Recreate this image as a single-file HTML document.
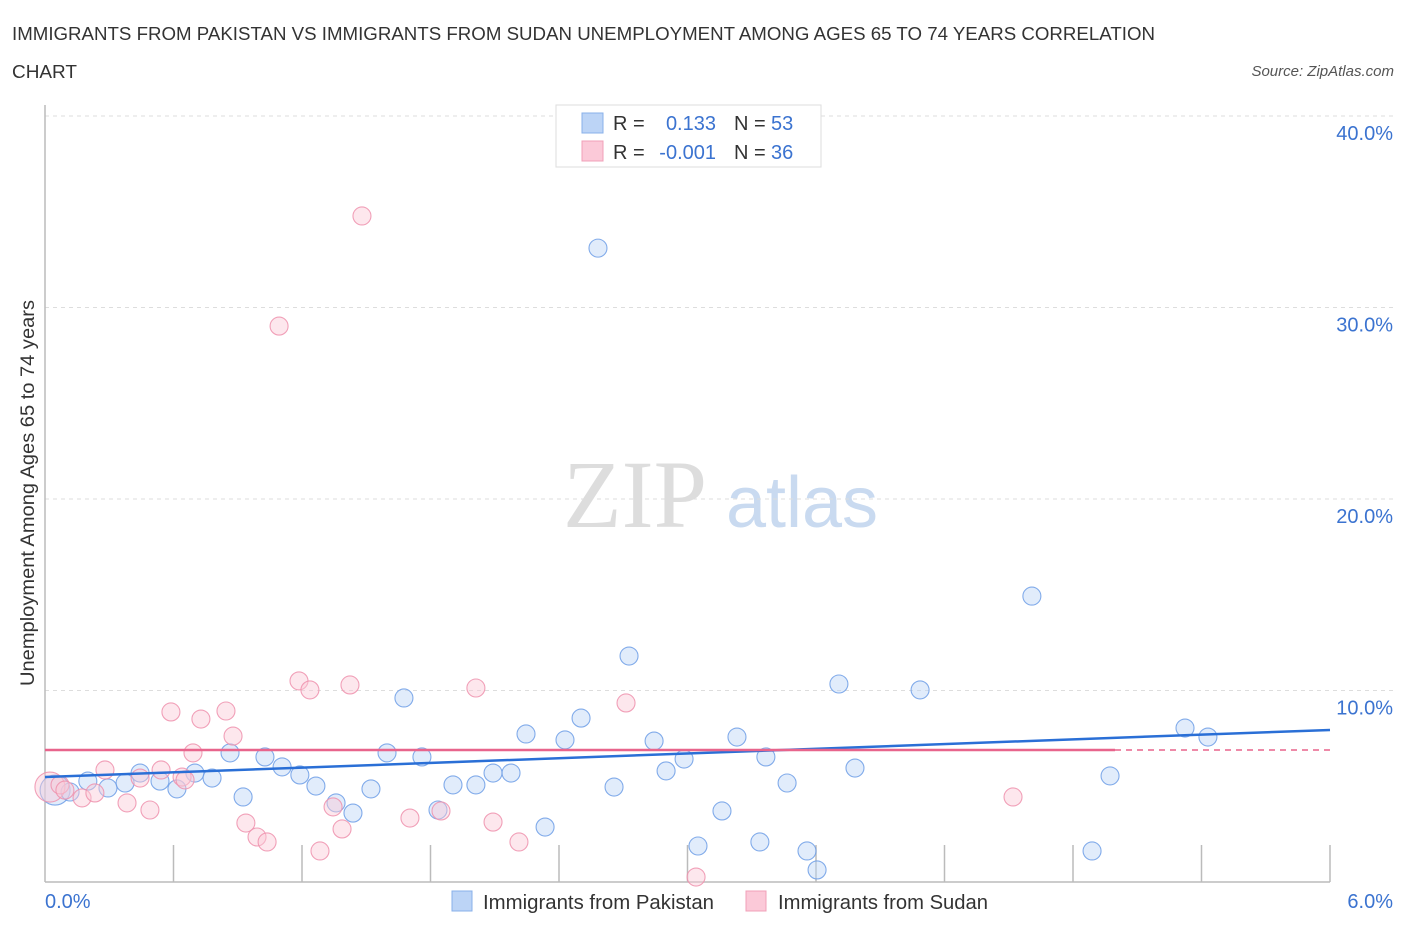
<!DOCTYPE html>
<html><head><meta charset="utf-8"><style>
body{margin:0;background:#fff;font-family:"Liberation Sans",sans-serif;}
svg text{font-family:"Liberation Sans",sans-serif;}
</style></head><body>
<svg id="chart" width="1406" height="930" xmlns="http://www.w3.org/2000/svg">
<text x="12" y="40" font-size="18" fill="#333" textLength="1143" lengthAdjust="spacingAndGlyphs">IMMIGRANTS FROM PAKISTAN VS IMMIGRANTS FROM SUDAN UNEMPLOYMENT AMONG AGES 65 TO 74 YEARS CORRELATION</text>
<text x="12" y="78" font-size="18" fill="#333" textLength="65" lengthAdjust="spacingAndGlyphs">CHART</text>
<text x="1394" y="76" font-size="15" font-style="italic" fill="#555" text-anchor="end">Source: ZipAtlas.com</text>
<g>
<text x="635" y="527" font-size="96" fill="#ddd" text-anchor="middle" style="font-family:'Liberation Serif',serif">ZIP</text>
<text x="802" y="527" font-size="72" fill="#c9daf0" text-anchor="middle">atlas</text>
</g>
<g id="grid"></g>
<g id="axes"></g>
<g id="pts"></g>
<g id="trend"></g>
<g>
<rect x="556" y="105" width="265" height="62" fill="#fff" stroke="#ddd"/>
<rect x="582" y="113" width="21" height="20" fill="#bcd4f6" stroke="#88b0ea"/>
<rect x="582" y="141" width="21" height="20" fill="#fbc9d8" stroke="#f0a0b8"/>
<text x="613" y="130" font-size="20" fill="#333">R = </text>
<text x="716" y="130" font-size="20" fill="#3b73d0" text-anchor="end">0.133</text>
<text x="734" y="130" font-size="20" fill="#333">N = </text>
<text x="771" y="130" font-size="20" fill="#3b73d0">53</text>
<text x="613" y="159" font-size="20" fill="#333">R = </text>
<text x="716" y="159" font-size="20" fill="#3b73d0" text-anchor="end">-0.001</text>
<text x="734" y="159" font-size="20" fill="#333">N = </text>
<text x="771" y="159" font-size="20" fill="#3b73d0">36</text>
</g>
<g>
<rect x="452" y="891" width="20" height="20" fill="#bcd4f6" stroke="#88b0ea"/>
<text x="483" y="909" font-size="20" fill="#333" textLength="231" lengthAdjust="spacingAndGlyphs">Immigrants from Pakistan</text>
<rect x="746" y="891" width="20" height="20" fill="#fbc9d8" stroke="#f0a0b8"/>
<text x="778" y="909" font-size="20" fill="#333" textLength="210" lengthAdjust="spacingAndGlyphs">Immigrants from Sudan</text>
</g>
<text x="0" y="0" font-size="19" fill="#333" text-anchor="middle" textLength="386" lengthAdjust="spacingAndGlyphs" transform="translate(34,493) rotate(-90)">Unemployment Among Ages 65 to 74 years</text>
</svg>
<script>
const pakX=[0.047,0.117,0.20,0.294,0.374,0.444,0.537,0.616,0.70,0.78,0.864,0.925,1.027,1.107,1.19,1.265,1.359,1.438,1.522,1.597,1.676,1.76,1.835,1.905,2.012,2.092,2.176,2.246,2.335,2.428,2.503,2.582,2.657,2.727,2.844,2.90,2.984,3.049,3.161,3.231,3.338,3.366,3.465,3.558,3.605,3.707,3.782,4.086,4.608,4.889,4.973,5.323,5.43];
const pakY=[4.80,4.70,5.27,4.91,5.17,5.69,5.27,4.86,5.69,5.43,6.74,4.44,6.53,6.01,5.59,5.01,4.13,3.60,4.86,6.74,9.61,6.53,3.76,5.07,5.07,5.69,5.69,7.73,2.87,7.42,8.56,33.1,4.96,11.8,7.36,5.80,6.42,1.88,3.71,7.57,2.09,6.53,5.17,1.62,0.63,10.34,5.95,10.03,14.93,1.62,5.54,8.04,7.57];
const sudX=[0.023,0.07,0.093,0.173,0.233,0.28,0.383,0.444,0.49,0.542,0.588,0.64,0.654,0.691,0.728,0.845,0.878,0.938,0.99,1.037,1.093,1.186,1.237,1.284,1.345,1.387,1.424,1.48,1.704,1.849,2.012,2.092,2.213,2.713,3.04,4.52];
const sudY=[4.96,5.07,4.80,4.39,4.65,5.85,4.13,5.43,3.76,5.85,8.88,5.48,5.33,6.74,8.51,8.93,7.62,3.08,2.35,2.09,29.03,10.5,10.03,1.62,3.92,2.77,10.29,34.78,3.34,3.71,10.13,3.13,2.09,9.35,0.26,4.44];
const pakTrend=[5.48,7.94];
const sudTrend=[6.89,6.89];
const yTicks=[10,20,30,40];
const xTickLabels=["0.0%","6.0%"];
const NS="http://www.w3.org/2000/svg";
const X0=45,X1=1330,Y0=882;
const sx=v=>X0+(v/6)*(X1-X0);
const sy=v=>Y0-v*19.15;
function mk(tag,attrs,parent){const e=document.createElementNS(NS,tag);for(const k in attrs)e.setAttribute(k,attrs[k]);document.getElementById(parent).appendChild(e);return e;}
yTicks.forEach(t=>{
 const l=mk('line',{x1:X0,x2:1395,y1:sy(t),y2:sy(t),stroke:'#ddd','stroke-dasharray':'4,4'},'grid');
 
 
 const tx=mk('text',{x:1393,y:sy(t)+24,'font-size':20,fill:'#3b73d0','text-anchor':'end'},'grid');
 tx.textContent=t.toFixed(1)+'%';
 
 
});
const ax=mk('line',{x1:X0,x2:X0,y1:105,y2:Y0,stroke:'#bbb','stroke-width':1.5},'axes');


const bx=mk('line',{x1:X0,x2:X1,y1:Y0,y2:Y0,stroke:'#bbb','stroke-width':1.5},'axes');


for(let i=1;i<=10;i++){
 const xx=X0+i*(X1-X0)/10;
 const tk=mk('line',{x1:xx,x2:xx,y1:845,y2:Y0,stroke:'#bbb','stroke-width':1.5},'axes');
 
 
}
const xl0=mk('text',{x:X0,y:908,'font-size':20,fill:'#3b73d0'},'axes');xl0.textContent=xTickLabels[0];


const xl1=mk('text',{x:1393,y:908,'font-size':20,fill:'#3b73d0','text-anchor':'end'},'axes');xl1.textContent=xTickLabels[1];


function pts(xs,ys,fill,stroke,name){
 xs.forEach((x,i)=>{
  const r=i===0?15:9;
  const c=mk('circle',{cx:sx(x),cy:sy(ys[i]),r:r,fill:fill,'fill-opacity':0.45,stroke:stroke,'stroke-width':1.1,'stroke-opacity':0.85},'pts');
  
  
 });
}
pts(pakX,pakY,'#bcd4f6','#6d9ee6','pakistan-point');
pts(sudX,sudY,'#fbc9d8','#ee90ad','sudan-point');
const tp=mk('line',{x1:X0,y1:sy(pakTrend[0]),x2:X1,y2:sy(pakTrend[1]),stroke:'#2a6fd6','stroke-width':2.5},'trend');


const ts=mk('line',{x1:X0,y1:sy(sudTrend[0]),x2:1115,y2:sy(sudTrend[1]),stroke:'#e8648c','stroke-width':2.5},'trend');


const td=mk('line',{x1:1115,y1:sy(sudTrend[1]),x2:X1,y2:sy(sudTrend[1]),stroke:'#e8648c','stroke-width':1.5,'stroke-dasharray':'6,5'},'trend');


</script>
</body></html>
